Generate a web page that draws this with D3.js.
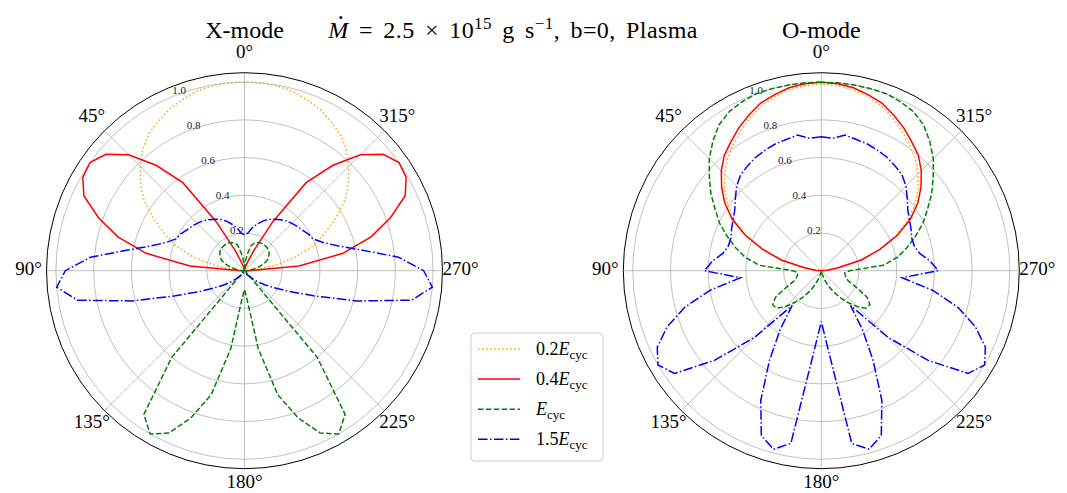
<!DOCTYPE html>
<html>
<head>
<meta charset="utf-8">
<script src="https://cdn.jsdelivr.net/npm/d3@7"></script>
<style>
  body { margin: 0; background: #fff; }
  svg text { font-family: "Liberation Serif", "DejaVu Serif", serif; fill: #000; }
</style>
</head>
<body>
<div id="chart"></div>
<script>
// Angles (deg, counter-clockwise from the top) at which the patterns were read
var angles = [
    0, 5, 10, 15, 20, 25, 30, 35, 40, 45, 50, 55,
    60, 65, 70, 75, 80, 85, 90, 95, 100, 105, 110, 115,
    120, 125, 130, 135, 140, 145, 150, 155, 160, 165, 170, 175,
    180, 185, 190, 195, 200, 205, 210, 215, 220, 225, 230, 235,
    240, 245, 250, 255, 260, 265, 270, 275, 280, 285, 290, 295,
    300, 305, 310, 315, 320, 325, 330, 335, 340, 345, 350, 355];

// X-mode, normalised intensity
var orangeX = [
    1.0, 1.0, 0.995, 0.985, 0.965, 0.945, 0.915, 0.885, 0.84, 0.78, 0.72, 0.65,
    0.56, 0.47, 0.39, 0.28, 0.165, 0.05, 0, 0, 0, 0, 0, 0,
    0, 0, 0, 0, 0, 0, 0, 0, 0, 0, 0, 0,
    0, 0, 0, 0, 0, 0, 0, 0, 0, 0, 0, 0,
    0, 0, 0, 0, 0, 0, 0, 0.05, 0.165, 0.28, 0.39, 0.47,
    0.56, 0.65, 0.72, 0.78, 0.84, 0.885, 0.915, 0.945, 0.965, 0.985, 0.995, 1.0];
var redX = [
    0, 0, 0.01, 0.02, 0.05, 0.12, 0.3, 0.57, 0.73, 0.87, 0.96, 1.0,
    0.99, 0.94, 0.825, 0.695, 0.53, 0.29, 0.02, 0, 0, 0, 0, 0,
    0, 0, 0, 0, 0, 0, 0, 0, 0, 0, 0, 0,
    0, 0, 0, 0, 0, 0, 0, 0, 0, 0, 0, 0,
    0, 0, 0, 0, 0, 0, 0.02, 0.29, 0.53, 0.695, 0.825, 0.94,
    0.99, 1.0, 0.96, 0.87, 0.73, 0.57, 0.3, 0.12, 0.05, 0.02, 0.01, 0];
var greenX = [
    0, 0.05, 0.09, 0.14, 0.155, 0.165, 0.17, 0.172, 0.172, 0.17, 0.168, 0.16,
    0.148, 0.134, 0.11, 0.08, 0.05, 0.025, 0.01, 0.01, 0.01, 0.01, 0.01, 0.01,
    0.01, 0.01, 0.01, 0.02, 0.6, 0.93, 1.0, 0.95, 0.83, 0.68, 0.42, 0.15,
    0.1, 0.15, 0.42, 0.68, 0.83, 0.95, 1.0, 0.93, 0.6, 0.02, 0.01, 0.01,
    0.01, 0.01, 0.01, 0.01, 0.01, 0.01, 0.01, 0.025, 0.05, 0.08, 0.11, 0.134,
    0.148, 0.16, 0.168, 0.17, 0.172, 0.172, 0.17, 0.165, 0.155, 0.14, 0.09, 0.05];
var blueX = [
    0.19, 0.2, 0.23, 0.255, 0.28, 0.3, 0.315, 0.33, 0.345, 0.355, 0.365, 0.375,
    0.39, 0.4, 0.44, 0.51, 0.63, 0.82, 0.95, 1.0, 0.9, 0.62, 0.39, 0.26,
    0.18, 0.13, 0.09, 0.06, 0.04, 0.03, 0.02, 0.015, 0.01, 0.01, 0.01, 0.01,
    0.01, 0.01, 0.01, 0.01, 0.01, 0.015, 0.02, 0.03, 0.04, 0.06, 0.09, 0.13,
    0.18, 0.26, 0.39, 0.62, 0.9, 1.0, 0.95, 0.82, 0.63, 0.51, 0.44, 0.4,
    0.39, 0.375, 0.365, 0.355, 0.345, 0.33, 0.315, 0.3, 0.28, 0.255, 0.23, 0.2];

// O-mode, normalised intensity
var orangeO = [
    0.99, 0.985, 0.975, 0.955, 0.93, 0.895, 0.855, 0.815, 0.775, 0.725, 0.67, 0.605,
    0.53, 0.435, 0.33, 0.22, 0.11, 0.04, 0, 0, 0, 0, 0, 0,
    0, 0, 0, 0, 0, 0, 0, 0, 0, 0, 0, 0,
    0, 0, 0, 0, 0, 0, 0, 0, 0, 0, 0, 0,
    0, 0, 0, 0, 0, 0, 0, 0.04, 0.11, 0.22, 0.33, 0.435,
    0.53, 0.605, 0.67, 0.725, 0.775, 0.815, 0.855, 0.895, 0.93, 0.955, 0.975, 0.985];
var redO = [
    1.0, 0.995, 0.985, 0.965, 0.945, 0.91, 0.875, 0.835, 0.8, 0.75, 0.69, 0.625,
    0.545, 0.445, 0.33, 0.22, 0.09, 0.03, 0, 0, 0, 0, 0, 0,
    0, 0, 0, 0, 0, 0, 0, 0, 0, 0, 0, 0,
    0, 0, 0, 0, 0, 0, 0, 0, 0, 0, 0, 0,
    0, 0, 0, 0, 0, 0, 0, 0.03, 0.09, 0.22, 0.33, 0.445,
    0.545, 0.625, 0.69, 0.75, 0.8, 0.835, 0.875, 0.91, 0.945, 0.965, 0.985, 0.995];
var greenO = [
    1.0, 1.0, 1.0, 1.0, 1.0, 0.99, 0.975, 0.945, 0.895, 0.84, 0.775, 0.715,
    0.65, 0.595, 0.53, 0.47, 0.41, 0.33, 0.15, 0.125, 0.128, 0.135, 0.15, 0.2,
    0.28, 0.315, 0.31, 0.27, 0.22, 0.175, 0.13, 0.09, 0.05, 0.02, 0.01, 0.01,
    0.02, 0.01, 0.01, 0.02, 0.05, 0.09, 0.13, 0.175, 0.22, 0.27, 0.31, 0.315,
    0.28, 0.2, 0.15, 0.135, 0.128, 0.125, 0.15, 0.33, 0.41, 0.47, 0.53, 0.595,
    0.65, 0.715, 0.775, 0.84, 0.895, 0.945, 0.975, 0.99, 1.0, 1.0, 1.0, 1.0];
var blueO = [
    0.71, 0.705, 0.73, 0.72, 0.715, 0.705, 0.695, 0.68, 0.665, 0.635, 0.595, 0.56,
    0.54, 0.525, 0.51, 0.51, 0.53, 0.58, 0.62, 0.43, 0.6, 0.75, 0.87, 0.96,
    1.0, 0.95, 0.74, 0.5, 0.24, 0.38, 0.55, 0.76, 0.93, 0.98, 0.93, 0.42,
    0.27, 0.42, 0.93, 0.98, 0.93, 0.76, 0.55, 0.38, 0.24, 0.5, 0.74, 0.95,
    1.0, 0.96, 0.87, 0.75, 0.6, 0.43, 0.62, 0.58, 0.53, 0.51, 0.51, 0.525,
    0.54, 0.56, 0.595, 0.635, 0.665, 0.68, 0.695, 0.705, 0.715, 0.72, 0.73, 0.705];

// ticks
var rTicks = [0.2, 0.4, 0.6, 0.8, 1.0];
var thetaTicks = [0, 45, 90, 135, 180, 225, 270, 315];

// series styles (legend order)
var seriesNames = ["0.2", "0.4", "", "1.5"];
var seriesColors = ["#ffa500", "#ff0000", "#008000", "#0000ff"];
var seriesDash = ["1.5,2.5", null, "5.5,2.4", "9.6,2.4,1.5,2.4"];

var width = 1067, height = 493;
var R = 198, rMax = 1.05;

var svg = d3.select("#chart").append("svg")
    .attr("width", width)
    .attr("height", height);

var r = d3.scaleLinear().domain([0, rMax]).range([0, R]);

var panels = [
    {cx: 244.5, cy: 270.7, title: "X-mode", data: [orangeX, redX, greenX, blueX]},
    {cx: 821.3, cy: 270.7, title: "O-mode", data: [orangeO, redO, greenO, blueO]}
];

var rad = Math.PI / 180;

panels.forEach(function (p) {
    var g = svg.append("g").attr("transform", "translate(" + p.cx + "," + p.cy + ")");

    // grille
    g.selectAll(".rgrid").data(rTicks).enter().append("circle")
        .attr("r", function (d) { return r(d); })
        .attr("fill", "none")
        .attr("stroke", "#b0b0b0")
        .attr("stroke-width", 0.8);

    g.selectAll(".tgrid").data(thetaTicks).enter().append("line")
        .attr("x1", 0).attr("y1", 0)
        .attr("x2", function (d) { return -R * Math.sin(d * rad); })
        .attr("y2", function (d) { return -R * Math.cos(d * rad); })
        .attr("stroke", "#b0b0b0")
        .attr("stroke-width", 0.8);

    // labels radiaux a 22.5 deg
    g.selectAll(".rlab").data(rTicks).enter().append("text")
        .attr("x", function (d) { return -r(d) * Math.sin(22.5 * rad); })
        .attr("y", function (d) { return -r(d) * Math.cos(22.5 * rad) - 2; })
        .style("font-size", "11px")
        .style("fill", "#222")
        .text(function (d) { return d.toFixed(1); });

    // courbes
    var line = d3.lineRadial()
        .angle(function (d) { return -d[0] * rad; })
        .radius(function (d) { return r(d[1]); })
        .curve(d3.curveLinearClosed);

    p.data.forEach(function (vals, k) {
        var pts = angles.map(function (a, i) { return [a, vals[i]]; });
        g.append("path")
            .attr("d", line(pts))
            .attr("fill", "none")
            .attr("stroke", seriesColors[k])
            .attr("stroke-width", 1.5)
            .attr("stroke-dasharray", seriesDash[k]);
    });

    // cercle exterieur
    g.append("circle")
        .attr("r", R)
        .attr("fill", "none")
        .attr("stroke", "#000")
        .attr("stroke-width", 1);

    // labels angulaires (celui du bas remonte un peu pour rester dans la page)
    g.selectAll(".tlab").data(thetaTicks).enter().append("text")
        .attr("x", function (d) { return -216 * Math.sin(d * rad); })
        .attr("y", function (d) {
            var c = Math.cos(d * rad);
            return -217 * c + 4.3 - (c < -0.9 ? 4 : 0);
        })
        .attr("text-anchor", "middle")
        .style("font-size", "19px")
        .text(function (d) { return d + "°"; });

    // titre
    svg.append("text")
        .attr("x", p.cx)
        .attr("y", 38)
        .attr("text-anchor", "middle")
        .style("font-size", "24px")
        .text(p.title);
});

// Titre general
var sup = svg.append("text")
    .attr("x", 513)
    .attr("y", 38)
    .attr("text-anchor", "middle")
    .style("font-size", "24px")
    .style("word-spacing", "4px")
    .style("letter-spacing", "0.4px");
sup.append("tspan").style("font-style", "italic").text("M");
sup.append("tspan").text(" = 2.5 × 10");
sup.append("tspan").attr("dy", -9).style("font-size", "17px").text("15");
sup.append("tspan").attr("dy", 9).text(" g s");
sup.append("tspan").attr("dy", -9).style("font-size", "17px").text("−1");
sup.append("tspan").attr("dy", 9).text(", b=0, Plasma");

// point au-dessus du M
var ext = sup.node().getExtentOfChar(0);
svg.append("circle")
    .attr("cx", ext.x + ext.width * 0.62)
    .attr("cy", 38 - 20.5)
    .attr("r", 1.5)
    .attr("fill", "#000");

// Legende
var leg = svg.append("g").attr("transform", "translate(471,333)");
leg.append("rect")
    .attr("width", 132).attr("height", 128)
    .attr("rx", 4)
    .attr("fill", "#fff")
    .attr("fill-opacity", 0.8)
    .attr("stroke", "#cccccc")
    .attr("stroke-width", 1);

seriesNames.forEach(function (name, k) {
    var y = 16 + k * 30.1;
    leg.append("line")
        .attr("x1", 7).attr("x2", 49)
        .attr("y1", y).attr("y2", y)
        .attr("stroke", seriesColors[k])
        .attr("stroke-width", 1.5)
        .attr("stroke-dasharray", seriesDash[k]);
    var t = leg.append("text")
        .attr("x", 65)
        .attr("y", y + 6)
        .style("font-size", "18px");
    if (name) t.append("tspan").text(name);
    t.append("tspan").style("font-style", "italic").text("E");
    t.append("tspan").attr("dy", 4).style("font-size", "13px").text("cyc");
});
</script>
</body>
</html>
